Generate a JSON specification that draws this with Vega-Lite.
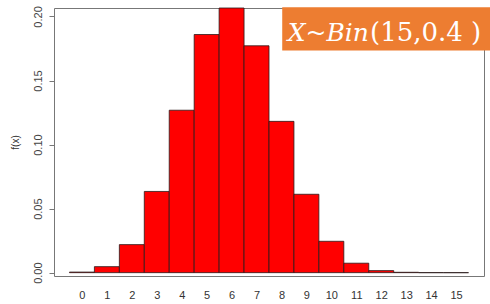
{
  "$schema": "https://vega.github.io/schema/vega-lite/v6.json",
  "autosize": "none",
  "width": 430,
  "height": 268,
  "padding": {"left": 54, "top": 8, "right": 6, "bottom": 28},
  "background": "white",
  "config": {
    "view": {"stroke": "#777", "strokeWidth": 1},
    "font": "Liberation Sans"
  },
  "datasets": {
    "pmf": [
      {"k": 0, "p": 0.00047},
      {"k": 1, "p": 0.0047},
      {"k": 2, "p": 0.0219},
      {"k": 3, "p": 0.0634},
      {"k": 4, "p": 0.1268},
      {"k": 5, "p": 0.1859},
      {"k": 6, "p": 0.2066},
      {"k": 7, "p": 0.1771},
      {"k": 8, "p": 0.1181},
      {"k": 9, "p": 0.0612},
      {"k": 10, "p": 0.0245},
      {"k": 11, "p": 0.0074},
      {"k": 12, "p": 0.0016},
      {"k": 13, "p": 0.0003},
      {"k": 14, "p": 0.00003},
      {"k": 15, "p": 0.000001}
    ],
    "box": [
      {"lo": 8.03, "hi": 16.5, "p": 0.1735, "p2": 0.2072}
    ],
    "caption": [
      {"lo": 8.25, "p": 0.181, "t": "X~Bin"},
      {"lo": 11.55, "p": 0.181, "t": "(15,0.4 )"}
    ]
  },
  "encoding": {
    "x": {
      "field": "lo", "type": "quantitative",
      "scale": {"domain": [-1.12, 16.12], "nice": false, "zero": false},
      "axis": {
        "title": null, "values": [0,1,2,3,4,5,6,7,8,9,10,11,12,13,14,15],
        "domain": false, "ticks": false, "grid": false,
        "labelOverlap": false, "labelFlush": false, "labelBound": false,
        "labelPadding": 13, "labelFontSize": 11, "labelColor": "#333",
        "labelFont": "Liberation Sans"
      }
    },
    "y": {
      "field": "p", "type": "quantitative",
      "scale": {"domain": [-0.0026, 0.2066], "nice": false, "zero": false},
      "axis": {
        "title": "f(x)", "titleFontWeight": "normal", "titleFontSize": 10, "titleColor": "#333",
        "titlePadding": 12, "titleFont": "Liberation Sans",
        "values": [0, 0.05, 0.1, 0.15, 0.2], "format": ".2f",
        "domain": false, "grid": false, "tickSize": 5, "tickColor": "#777",
        "labelAngle": -90, "labelAlign": "center", "labelBaseline": "bottom",
        "labelPadding": 6, "labelFontSize": 11, "labelColor": "#444", "labelFont": "Liberation Sans"
      }
    }
  },
  "layer": [
    {
      "data": {"name": "pmf"},
      "transform": [
        {"bin": {"step": 1, "anchor": 0.5, "nice": false, "extent": [-0.5, 15.5]}, "field": "k", "as": ["lo", "hi"]}
      ],
      "mark": {"type": "bar", "color": "#ff0000", "stroke": "#2a1a1a", "strokeWidth": 0.8},
      "encoding": {
        "x2": {"field": "hi"},
        "y2": {"datum": 0}
      }
    },
    {
      "data": {"name": "box"},
      "mark": {"type": "rect", "color": "#ed7d31", "clip": false},
      "encoding": {
        "x2": {"field": "hi"},
        "y2": {"field": "p2"}
      }
    },
    {
      "data": {"name": "caption"},
      "transform": [{"filter": "datum.t == 'X~Bin'"}],
      "mark": {"type": "text", "color": "white", "font": "DejaVu Serif", "fontStyle": "italic", "fontSize": 25, "align": "left", "baseline": "alphabetic"},
      "encoding": {
        "text": {"field": "t"}
      }
    },
    {
      "data": {"name": "caption"},
      "transform": [{"filter": "datum.t != 'X~Bin'"}],
      "mark": {"type": "text", "color": "white", "font": "DejaVu Serif", "fontSize": 26, "align": "left", "baseline": "alphabetic"},
      "encoding": {
        "text": {"field": "t"}
      }
    }
  ]
}
